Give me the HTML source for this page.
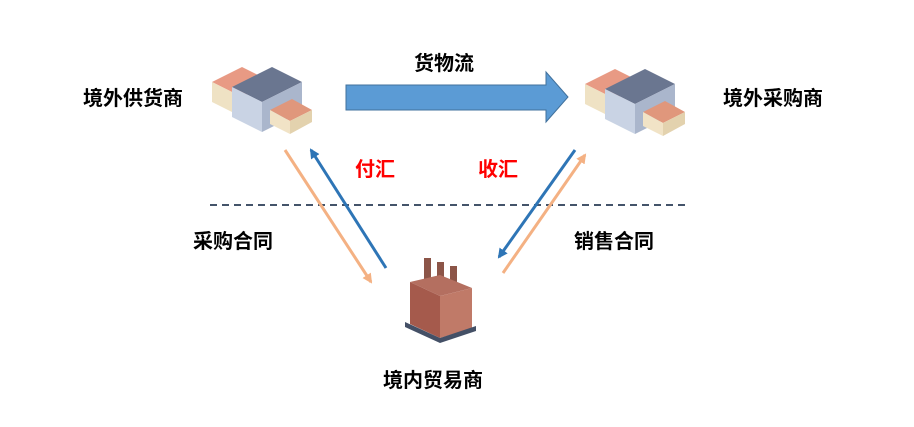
<!DOCTYPE html>
<html><head><meta charset="utf-8"><style>
body{margin:0;background:#fff;width:914px;height:422px;overflow:hidden}
svg text{font-family:"Liberation Sans","Noto Sans CJK SC",sans-serif;font-weight:bold;font-size:20px}
</style></head><body>
<svg width="914" height="422" viewBox="0 0 914 422">
<defs>
<marker id="ab" markerWidth="10" markerHeight="10" refX="8" refY="5" orient="auto" markerUnits="userSpaceOnUse"><path d="M0,0 L10,5 L0,10 Z" fill="#2e75b6"/></marker>
<marker id="ao" markerWidth="10" markerHeight="10" refX="8" refY="5" orient="auto" markerUnits="userSpaceOnUse"><path d="M0,0 L10,5 L0,10 Z" fill="#f4b183"/></marker>
<g id="bld">
<polygon points="0,40 30,25 60,40 30,55" fill="#e89a84"/>
<polygon points="0,40 30,55 30,75 0,60" fill="#efe2c4"/>
<polygon points="20,45 60,25 90,40 50,60" fill="#6a7690"/>
<polygon points="20,45 50,60 50,90 20,75" fill="#c9d3e4"/>
<polygon points="50,60 90,40 90,70 50,90" fill="#aab6cc"/>
<polygon points="58,68 80,57 100,68 78,79" fill="#e0977c"/>
<polygon points="58,68 78,79 78,92 58,82" fill="#f1e3c6"/>
<polygon points="78,79 100,68 100,80 78,92" fill="#e3d2ae"/>
</g>
</defs>
<use href="#bld" x="212" y="42"/>
<use href="#bld" x="585" y="44"/>
<!-- factory -->
<g>
<rect x="424" y="258" width="7" height="24" fill="#8c5548"/>
<rect x="437" y="262" width="7" height="24" fill="#8c5548"/>
<rect x="450" y="266" width="7" height="24" fill="#8c5548"/>
<polygon points="410,282 440,275 472,288 440,296" fill="#b46f60"/>
<polygon points="410,282 440,296 440,338 410,324" fill="#a55a4c"/>
<polygon points="440,296 472,288 472,328 440,338" fill="#c07a68"/>
<polygon points="405,322 440,338 476,326 476,331 440,343 405,327" fill="#445066"/>
</g>
<!-- big arrow -->
<polygon points="346,85 546,85 546,72 568,97 546,122 546,110 346,110" fill="#5b9bd5" stroke="#41719c" stroke-width="1"/>
<line x1="210" y1="205" x2="690" y2="205" stroke="#44546a" stroke-width="2" stroke-dasharray="7,5"/>
<line x1="285" y1="150" x2="371" y2="282" stroke="#f4b183" stroke-width="3" marker-end="url(#ao)"/>
<line x1="386" y1="268" x2="311" y2="150" stroke="#2e75b6" stroke-width="3" marker-end="url(#ab)"/>
<line x1="575" y1="150" x2="499" y2="257" stroke="#2e75b6" stroke-width="3" marker-end="url(#ab)"/>
<line x1="503" y1="273" x2="585" y2="155" stroke="#f4b183" stroke-width="3" marker-end="url(#ao)"/>
<text x="83" y="105">境外供货商</text>
<text x="414" y="70">货物流</text>
<text x="723" y="105">境外采购商</text>
<text x="355" y="176" fill="#ff0000">付汇</text>
<text x="478" y="176" fill="#ff0000">收汇</text>
<text x="193" y="248">采购合同</text>
<text x="574" y="248">销售合同</text>
<text x="383" y="387">境内贸易商</text>
</svg>
</body></html>
